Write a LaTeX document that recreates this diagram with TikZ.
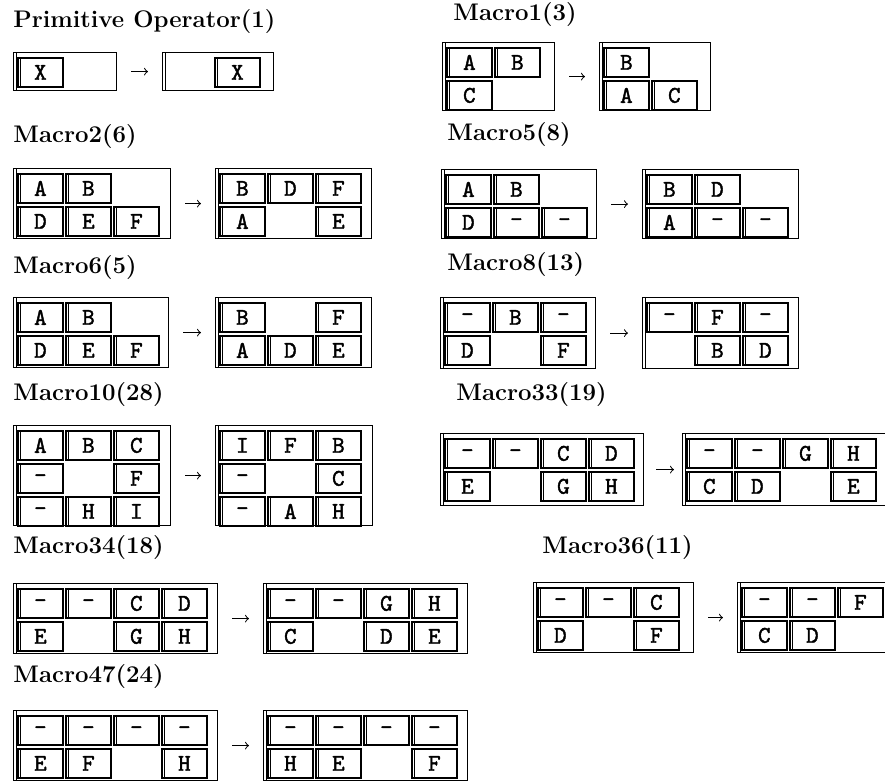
\documentclass[tikz,border=0pt]{standalone}
\usepackage{xcolor}
\usepackage{fontspec}
\usepackage{tikz}
\newfontfamily\celltt{lmmono10-regular}[Extension=.otf, FakeBold=1.6]

% un panel: nombre, x, y, ancho, alto, casillas (columna/fila/letra)
\newcommand{\panel}[6]{%
  \node[frame, minimum width=#4*0.5pt, minimum height=#5*0.5pt] (#1) at (#2,#3) {};
  \foreach \cc/\rr/\lbl in {#6}
    \node[cell] (#1-\cc-\rr) at ({#2+4+48*(\cc-1)},{#3+5+33*(\rr-1)}) {\lbl};
}

\tikzset{
  frame/.style={draw, line width=0.6pt, anchor=north west, inner sep=0pt,
    path picture={\draw[line width=0.4pt]
      ([xshift=1.6pt]path picture bounding box.north west) --
      ([xshift=1.6pt]path picture bounding box.south west);}},
  cell/.style={draw, line width=0.9pt, anchor=north west, inner sep=0pt,
    minimum width=22.5pt, minimum height=14.5pt, font=\celltt\large,
    path picture={\draw[line width=0.3pt]
      ([xshift=1.3pt]path picture bounding box.north west) --
      ([xshift=1.3pt]path picture bounding box.south west);}},
  ttl/.style={anchor=west, inner sep=0pt, font=\large\bfseries},
  arr/.style={->, line width=0.5pt, shorten <=7pt, shorten >=7pt}
}

\begin{document}
\begin{tikzpicture}[x=0.5pt, y=-0.5pt]
\useasboundingbox (0,0) rectangle (885,782);
\clip (0,0) rectangle (885,782);

% Primitive Operator(1)
\node[ttl] (tp) at (13,22) {Primitive Operator(1)};
\panel{pl}{13}{52}{103}{38}{1/1/X}
\panel{pr}{162}{52}{111}{38}{2/1/X}
\draw[arr] (pl.east) -- (pr.west);

% Macro1(3)
\node[ttl] (t1) at (453,15) {Macro1(3)};
\panel{ml}{442}{42}{112}{68}{1/1/A, 2/1/B, 1/2/C}
\panel{mr}{599}{42}{111}{68}{1/1/B, 1/2/A, 2/2/C}
\draw[arr] (ml.east) -- (mr.west);

% Macro2(6)
\node[ttl] (t2) at (13,137) {Macro2(6)};
\panel{aal}{13}{168}{157}{70}{1/1/A, 2/1/B, 1/2/D, 2/2/E, 3/2/F}
\panel{aar}{215}{168}{156}{70}{1/1/B, 2/1/D, 3/1/F, 1/2/A, 3/2/E}
\draw[arr] (aal.east) -- (aar.west);

% Macro5(8)
\node[ttl] (t5) at (447,135) {Macro5(8)};
\panel{bbl}{441}{169}{155}{69}{1/1/A, 2/1/B, 1/2/D, 2/2/-, 3/2/-}
\panel{bbr}{642}{169}{156}{69}{1/1/B, 2/1/D, 1/2/A, 2/2/-, 3/2/-}
\draw[arr] (bbl.east) -- (bbr.west);

% Macro6(5)
\node[ttl] (t6) at (13,268) {Macro6(5)};
\panel{ccl}{13}{297}{155}{70}{1/1/A, 2/1/B, 1/2/D, 2/2/E, 3/2/F}
\panel{ccr}{215}{297}{156}{70}{1/1/B, 3/1/F, 1/2/A, 2/2/D, 3/2/E}
\draw[arr] (ccl.east) -- (ccr.west);

% Macro8(13)
\node[ttl] (t8) at (447,265) {Macro8(13)};
\panel{ddl}{440}{297}{155}{71}{1/1/-, 2/1/B, 3/1/-, 1/2/D, 3/2/F}
\panel{ddr}{642}{297}{156}{71}{1/1/-, 2/1/F, 3/1/-, 2/2/B, 3/2/D}
\draw[arr] (ddl.east) -- (ddr.west);

% Macro10(28)
\node[ttl] (t10) at (13,395) {Macro10(28)};
\panel{eel}{13}{425}{157}{100}{1/1/A, 2/1/B, 3/1/C, 1/2/-, 3/2/F, 1/3/-, 2/3/H, 3/3/I}
\panel{eer}{215}{425}{157}{100}{1/1/I, 2/1/F, 3/1/B, 1/2/-, 3/2/C, 1/3/-, 2/3/A, 3/3/H}
\draw[arr] (eel.east) -- (eer.west);

% Macro33(19)
\node[ttl] (t33) at (456,395) {Macro33(19)};
\panel{ffl}{440}{433}{203}{72}{1/1/-, 2/1/-, 3/1/C, 4/1/D, 1/2/E, 3/2/G, 4/2/H}
\panel{ffr}{682}{433}{210}{72}{1/1/-, 2/1/-, 3/1/G, 4/1/H, 1/2/C, 2/2/D, 4/2/E}
\draw[arr, shorten <=6pt, shorten >=4pt] (ffl.east) -- (ffr.west);

% Macro34(18)
\node[ttl] (t34) at (13,548) {Macro34(18)};
\panel{ggl}{13}{583}{204}{70}{1/1/-, 2/1/-, 3/1/C, 4/1/D, 1/2/E, 3/2/G, 4/2/H}
\panel{ggr}{263}{583}{204}{70}{1/1/-, 2/1/-, 3/1/G, 4/1/H, 1/2/C, 3/2/D, 4/2/E}
\draw[arr] (ggl.east) -- (ggr.west);

% Macro36(11)
\node[ttl] (t36) at (542,548) {Macro36(11)};
\panel{hhl}{533}{582}{160}{70}{1/1/-, 2/1/-, 3/1/C, 1/2/D, 3/2/F}
\panel{hhr}{737}{582}{160}{70}{1/1/-, 2/1/-, 3/1/F, 1/2/C, 2/2/D}
\draw[arr] (hhl.east) -- (hhr.west);

% Macro47(24)
\node[ttl] (t47) at (13,677) {Macro47(24)};
\panel{iil}{13}{710}{204}{70}{1/1/-, 2/1/-, 3/1/-, 4/1/-, 1/2/E, 2/2/F, 4/2/H}
\panel{iir}{263}{710}{204}{70}{1/1/-, 2/1/-, 3/1/-, 4/1/-, 1/2/H, 2/2/E, 4/2/F}
\draw[arr] (iil.east) -- (iir.west);

\end{tikzpicture}
\end{document}
